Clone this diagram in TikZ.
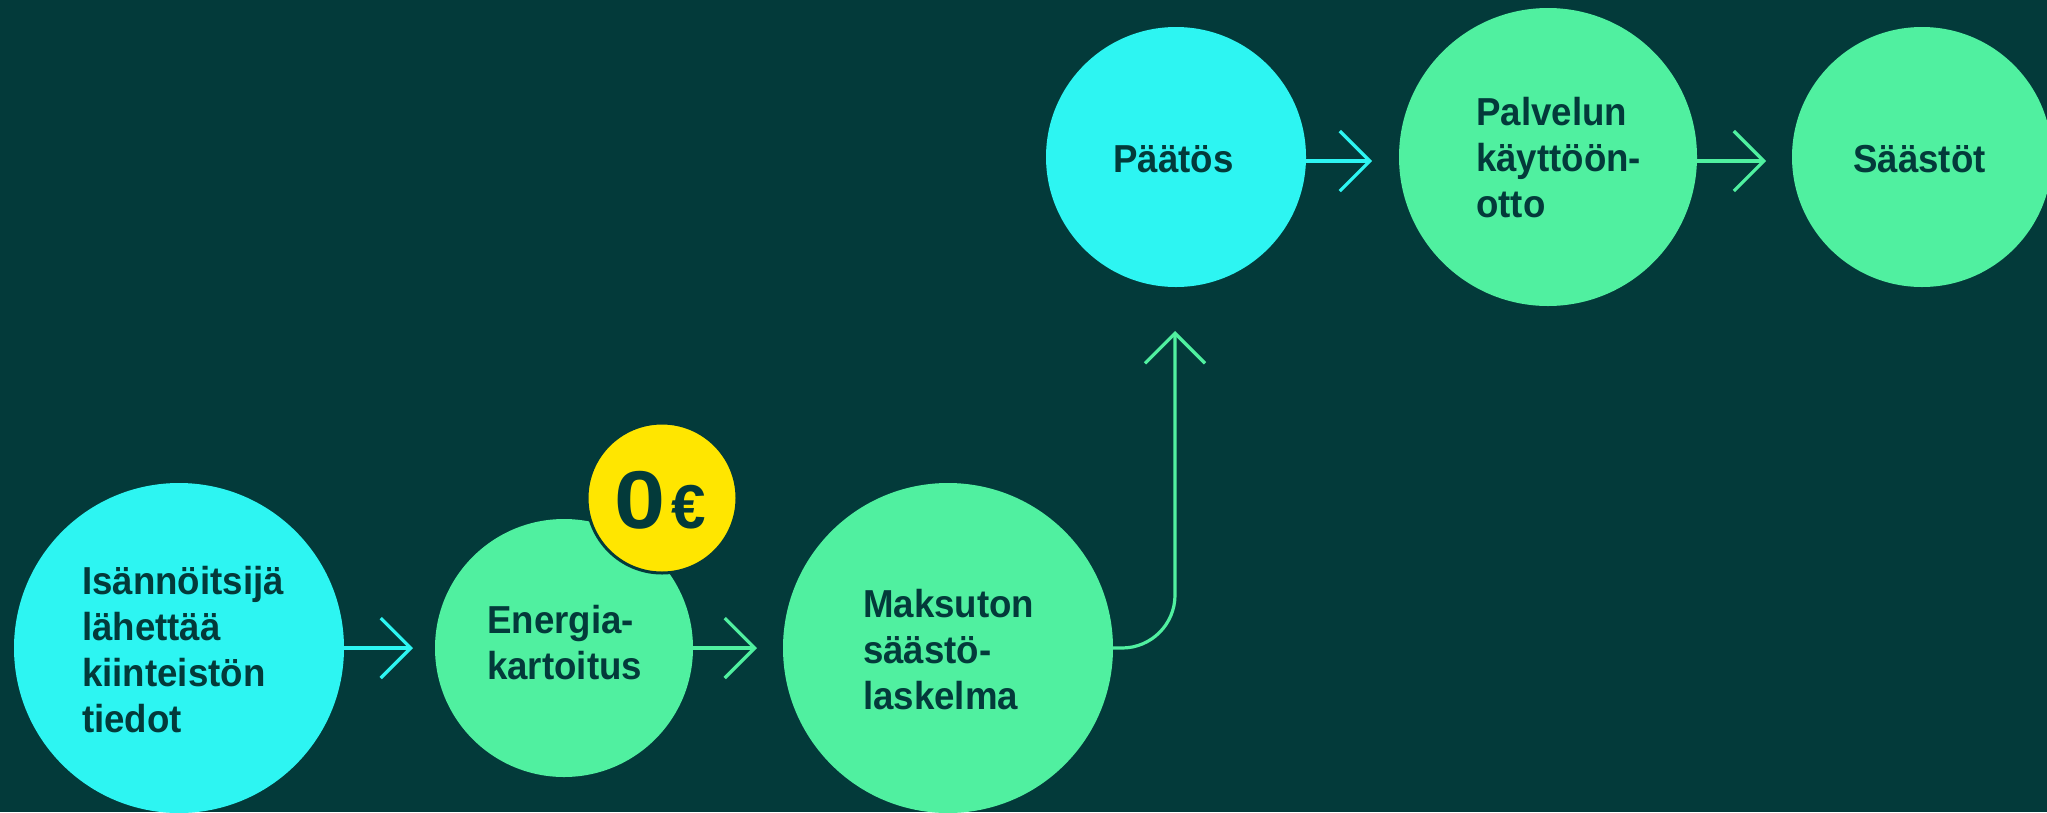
\documentclass[tikz,border=0pt]{standalone}
\usepackage{fontspec}
\setmainfont{Liberation Sans}[FakeStretch=0.94]
\newfontfamily\zerofont{Liberation Sans}
\usetikzlibrary{arrows.meta}
\definecolor{bg}{RGB}{3,58,58}
\definecolor{cy}{RGB}{45,245,242}
\definecolor{gr}{RGB}{80,240,160}
\definecolor{ye}{RGB}{255,230,0}
\tikzset{
  bubble/.style={circle, inner sep=0pt, minimum size=#1},
  lab/.style={anchor=base west, inner sep=0pt, text=bg, align=left,
    font=\fontsize{39}{46}\selectfont\bfseries},
  conn/.style={line width=3.2pt, -{Straight Barb[length=30pt,width=60pt]}},
}
\begin{document}
\begin{tikzpicture}[x=1pt,y=-1pt]
\useasboundingbox (0,0) rectangle (2047,812);
\fill[bg] (0,0) rectangle (2047,812);
% bubbles
\node[bubble=330pt, fill=cy] (c1) at (179,648) {};
\node[bubble=258pt, fill=gr] (c2) at (564,648) {};
\node[bubble=150pt, fill=ye, draw=bg, line width=3pt] (c0) at (662,498) {};
\node[bubble=330pt, fill=gr] (c3) at (948,648) {};
\node[bubble=260pt, fill=cy] (c4) at (1176,157) {};
\node[bubble=298pt, fill=gr] (c5) at (1548,157) {};
\node[bubble=260pt, fill=gr] (c6) at (1922,157) {};
% labels (anchor = baseline of last line)
\node[lab] (t1) at (82,732) {Isännöitsijä\\lähettää\\kiinteistön\\tiedot};
\node[lab] (t2) at (487,679) {Energia-\\kartoitus};
\node[lab] (t3) at (863,709) {Maksuton\\säästö-\\laskelma};
\node[lab] (t4) at (1113,172) {Päätös};
\node[lab] (t5) at (1476,217) {Palvelun\\käyttöön-\\otto};
\node[lab] (t6) at (1853,172) {Säästöt};
\node[anchor=base west, inner sep=0pt, text=bg] (t0) at (614,528)
  {\zerofont\bfseries\fontsize{82}{82}\selectfont\scalebox{1.12}[1]{0}\fontsize{62}{62}\selectfont\kern6pt€};
% connector ends
\coordinate (e1) at (413,648);
\coordinate (e2) at (757,648);
\coordinate (e3) at (1175,331);
\coordinate (e4) at (1372,161);
\coordinate (e5) at (1766,161);
% connectors
\draw[conn, cy] (c1.east) -- (e1);
\draw[conn, gr] (c2.east) -- (e2);
\draw[conn, gr, rounded corners=53pt] (c3.east) -| (e3);
\draw[conn, cy] (c4.east |- e4) -- (e4);
\draw[conn, gr] (c5.east |- e5) -- (e5);
\end{tikzpicture}
\end{document}
